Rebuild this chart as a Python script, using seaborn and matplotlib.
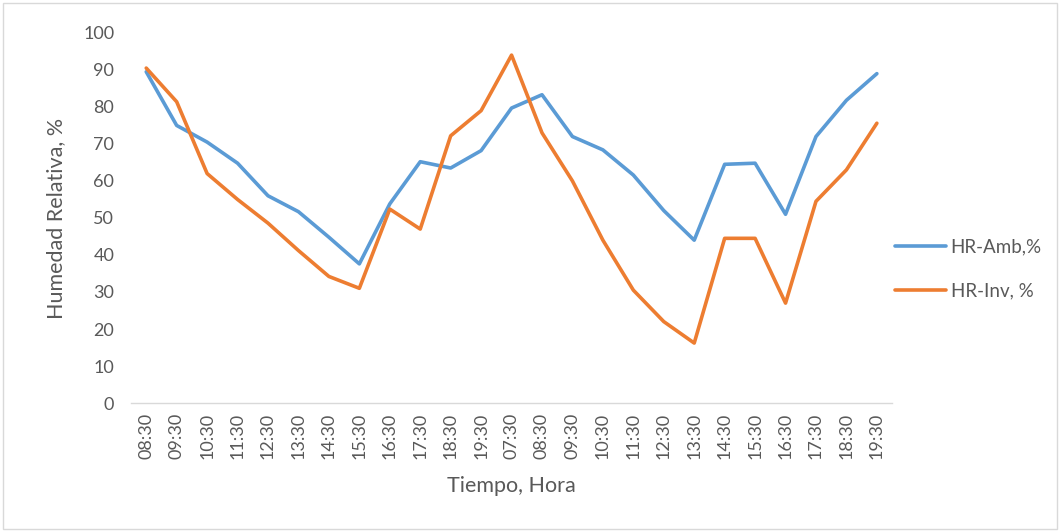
import numpy as np
import pandas as pd
import matplotlib
matplotlib.use("Agg")
import matplotlib.pyplot as plt
import seaborn as sns

# Hourly readings over two days
horas = ["08:30", "09:30", "10:30", "11:30", "12:30", "13:30", "14:30", "15:30",
         "16:30", "17:30", "18:30", "19:30", "07:30", "08:30", "09:30", "10:30",
         "11:30", "12:30", "13:30", "14:30", "15:30", "16:30", "17:30", "18:30", "19:30"]
hr_amb = [89.5, 75, 70.5, 64.8, 56, 51.7, 44.8, 37.6, 53.8, 65.2, 63.5, 68.2,
          79.7, 83.3, 72, 68.4, 61.6, 52, 44, 64.5, 64.8, 51, 72, 81.8, 89]
hr_inv = [90.5, 81.4, 62, 55, 48.6, 41.2, 34.2, 31, 52.4, 47, 72.2, 79,
          94, 73, 60, 44, 30.5, 22, 16.2, 44.5, 44.5, 27, 54.5, 63, 75.6]
series_names = ["HR-Amb,%", "HR-Inv, %"]
palette = ["#5B9BD5", "#ED7D31"]

idx = np.arange(len(horas))
df = pd.concat([
    pd.DataFrame({"pos": idx, "valor": hr_amb, "serie": series_names[0]}),
    pd.DataFrame({"pos": idx, "valor": hr_inv, "serie": series_names[1]}),
], ignore_index=True)

sns.set_theme(style="white")
plt.rcParams["font.family"] = ["Lato", "DejaVu Sans"]

fig = plt.figure(figsize=(10.6, 5.31), dpi=100)
ax = fig.add_axes([0.1236, 0.241, 0.718, 0.697])

sns.lineplot(data=df, x="pos", y="valor", hue="serie", palette=palette,
             sort=False, linewidth=2.6, ax=ax)

text_col = "#595959"
ax.set_xlim(-0.5, len(horas) - 0.5)
ax.set_ylim(0, 100)
ax.set_yticks(np.arange(0, 101, 10))
ax.set_xticks(idx)
ax.set_xticklabels(horas, rotation=90)
ax.tick_params(axis="both", length=0, labelsize=13, colors=text_col)
ax.tick_params(axis="x", pad=7)
ax.tick_params(axis="y", pad=12)

for side in ["top", "right", "left"]:
    ax.spines[side].set_visible(False)
ax.spines["bottom"].set_color("#D9D9D9")
ax.spines["bottom"].set_linewidth(1.0)

ax.set_xlabel("Tiempo, Hora", fontsize=15.5, color=text_col, labelpad=12)
ax.set_ylabel("Humedad Relativa, %", fontsize=15.5, color=text_col, labelpad=12)

leg = ax.legend(loc="center left", bbox_to_anchor=(0.982, 0.363), frameon=False,
                fontsize=13.5, handlelength=2.7, handletextpad=0.25,
                labelspacing=1.45)
for t in leg.get_texts():
    t.set_color(text_col)
for h in leg.legend_handles:
    h.set_linewidth(2.6)

# Light frame around the chart area
fig.patches.append(plt.Rectangle((0.003, 0.004), 0.994, 0.99, transform=fig.transFigure,
                                 fill=False, edgecolor="#D9D9D9", linewidth=1.0))

fig.savefig("out.png", dpi=100, facecolor="white")
